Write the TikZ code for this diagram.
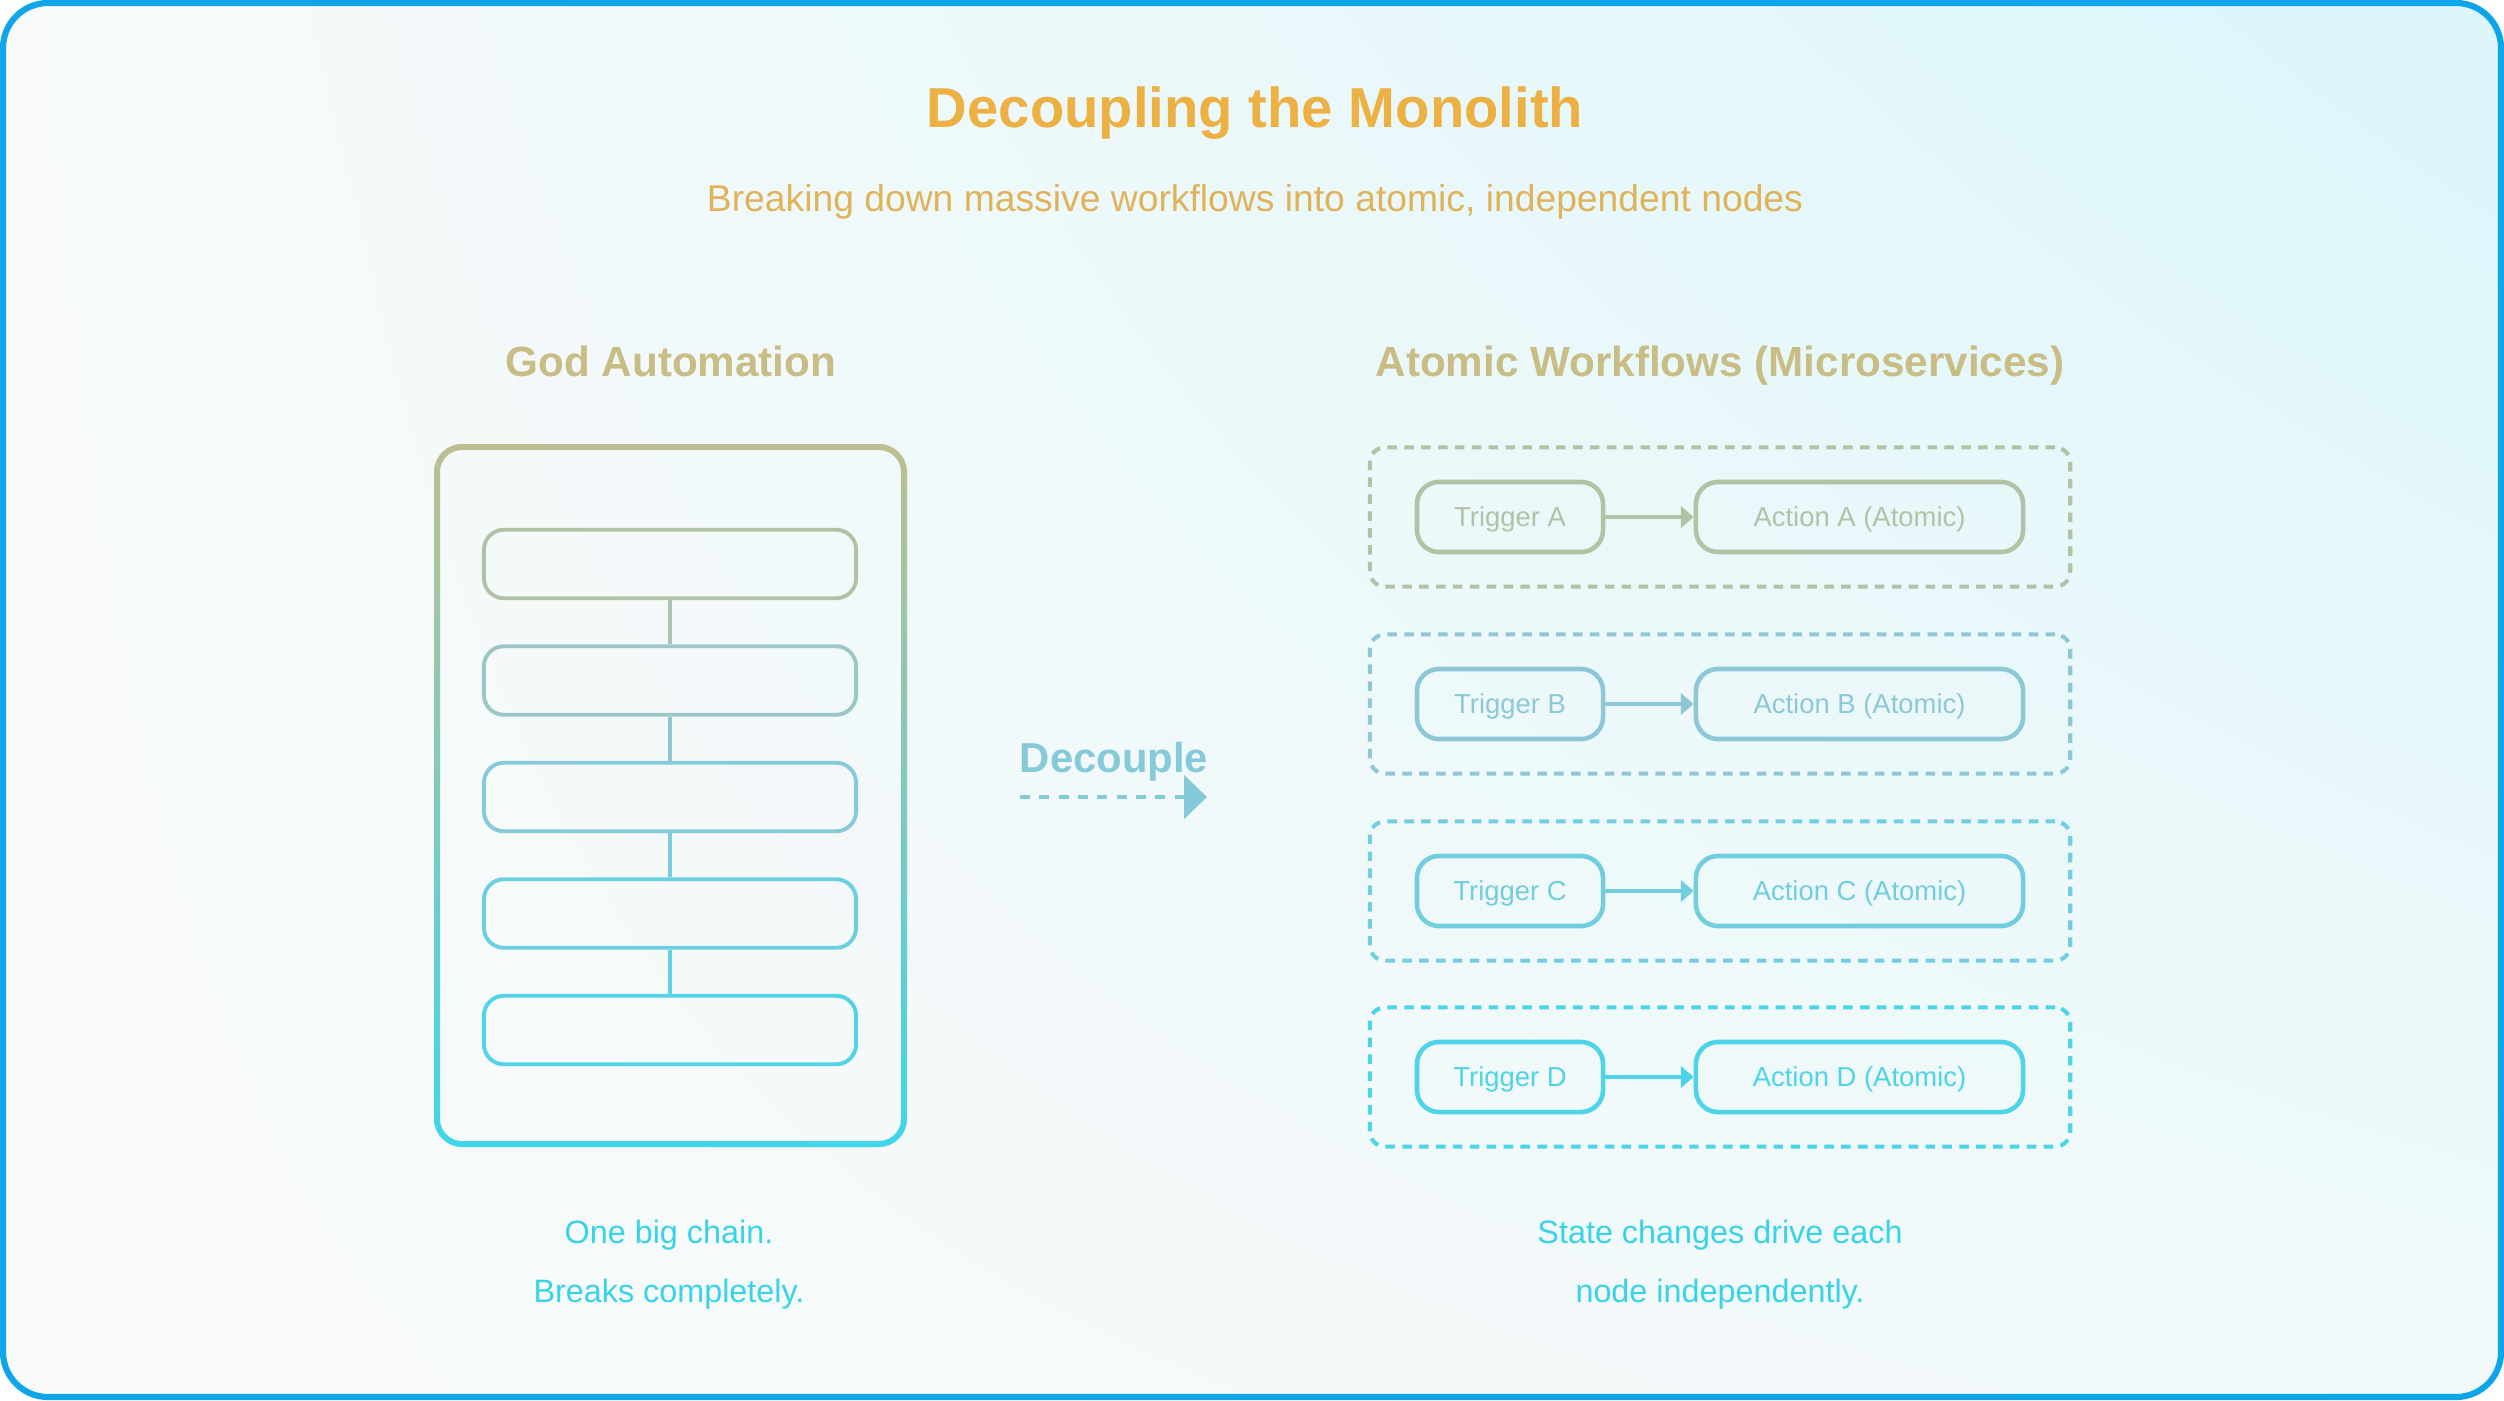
\documentclass[tikz,border=0pt]{standalone}
\usepackage{fontspec}
\setmainfont{Liberation Sans}
\usetikzlibrary{arrows.meta,positioning,shadings}
\definecolor{frame}   {HTML}{0EA5E9}
\definecolor{gold}    {HTML}{ECB043}
\definecolor{goldsub} {HTML}{E0B35A}
\definecolor{khaki}   {HTML}{C8BD85}
\definecolor{godtop}  {HTML}{BDBF91}
\definecolor{godmid}  {HTML}{84C9DA}
\definecolor{godbot}  {HTML}{40D5EA}
\definecolor{chain1}  {HTML}{B2C2A6}
\definecolor{chain2}  {HTML}{9DC6C6}
\definecolor{chain3}  {HTML}{86C9D9}
\definecolor{chain4}  {HTML}{6CCEE1}
\definecolor{chain5}  {HTML}{52D3E8}
\definecolor{rowA}    {HTML}{B2C2A5}
\definecolor{rowB}    {HTML}{8EC8D6}
\definecolor{rowC}    {HTML}{72CDDF}
\definecolor{rowD}    {HTML}{4DD4E8}
\definecolor{decouple}{HTML}{86CAD9}
\definecolor{note}    {HTML}{38D3E9}
\definecolor{bgtl}    {HTML}{F8FAFA}
\definecolor{bgtr}    {HTML}{DBF6FA}
\definecolor{bgbl}    {HTML}{F9FAFA}
\definecolor{bgbr}    {HTML}{F1F9FA}

\tikzset{
  chainbox/.style={draw, rounded corners=0.2cm, line width=1.1pt,
    minimum width=3.72cm, minimum height=0.685cm, inner sep=0pt},
  chainlink/.style={line width=1.1pt},
  trigbox/.style={draw, rounded corners=0.22cm, line width=1.3pt,
    minimum width=1.86cm, minimum height=0.70cm, inner sep=0pt,
    font=\fontsize{7.8}{9}\selectfont, text height=5.6pt, text depth=0pt},
  actbox/.style={trigbox, minimum width=3.27cm},
  groupbox/.style={draw, dashed, dash pattern=on 2.7pt off 2.1pt,
    rounded corners=0.15cm, line width=1.15pt,
    minimum width=7.0cm, minimum height=1.39cm, inner sep=0pt},
  rowarrow/.style={line width=1.1pt, -{Triangle[length=3.6pt,width=6pt]}},
  heading/.style={anchor=base, text=khaki, font=\fontsize{12}{14}\selectfont\bfseries},
  notetext/.style={anchor=base, text=note, font=\fontsize{9.2}{11}\selectfont}
}

\begin{document}
\begin{tikzpicture}[x=0.01cm,y=-0.01cm]
  \useasboundingbox (0,0) rectangle (2504,1400);
  \shade[upper left=bgtl, upper right=bgtr, lower left=bgbl, lower right=bgbr,
    rounded corners=0.45cm] (3,3) rectangle (2501,1397);
  \draw[frame, line width=1.75pt, rounded corners=0.45cm] (3,3) rectangle (2501,1397);

  \node[anchor=base, text=gold, font=\fontsize{16}{19}\selectfont\bfseries]
    (title) at (1255,128) {Decoupling the Monolith};
  \node[anchor=base, text=goldsub, font=\fontsize{10.6}{12}\selectfont]
    (subtitle) at (1255,212) {Breaking down massive workflows into atomic, independent nodes};

  \node[heading] (godhead) at (671,376) {God Automation};
  \node[heading] (atomhead) at (1720,376) {Atomic Workflows (Microservices)};

  \shade[top color=godtop, middle color=godmid, bottom color=godbot, even odd rule]
    [rounded corners=0.28cm] (434,444) rectangle (907,1147)
    [rounded corners=0.22cm] (440,450) rectangle (901,1141);
  \foreach \i/\y in {1/564,2/680.5,3/797,4/913.5,5/1030}
    \node[chainbox, draw=chain\i] (c\i) at (670,\y) {};
  \foreach \i/\j in {1/2,2/3,3/4,4/5}
    \draw[chainlink, draw=chain\i!50!chain\j] (c\i) -- (c\j);

  \node[anchor=base, text=decouple, font=\fontsize{11.9}{14}\selectfont\bfseries]
    (declabel) at (1114,772) {Decouple};
  \coordinate (decstart) at (1020,797);
  \coordinate (decend) at (1207,797);
  \draw[decouple, line width=1.4pt, dash pattern=on 2.85pt off 2.65pt,
    -{Triangle[length=6.5pt,width=12.2pt]}] (decstart) -- (decend);

  \foreach \r/\y in {A/517,B/704,C/891,D/1077}{
    \node[groupbox, draw=row\r] (g\r) at (1720,\y) {};
    \node[trigbox, draw=row\r, text=row\r] (t\r) at (1510,\y) {Trigger \r};
    \node[actbox, draw=row\r, text=row\r] (a\r) at (1859.5,\y) {Action \r{} (Atomic)};
    \draw[rowarrow, row\r] (t\r) -- (a\r);
  }

  \node[notetext] (godnote1) at (669,1243) {One big chain.};
  \node[notetext] (godnote2) at (669,1302) {Breaks completely.};
  \node[notetext] (atomnote1) at (1720,1243) {State changes drive each};
  \node[notetext] (atomnote2) at (1720,1302) {node independently.};
\end{tikzpicture}
\end{document}
